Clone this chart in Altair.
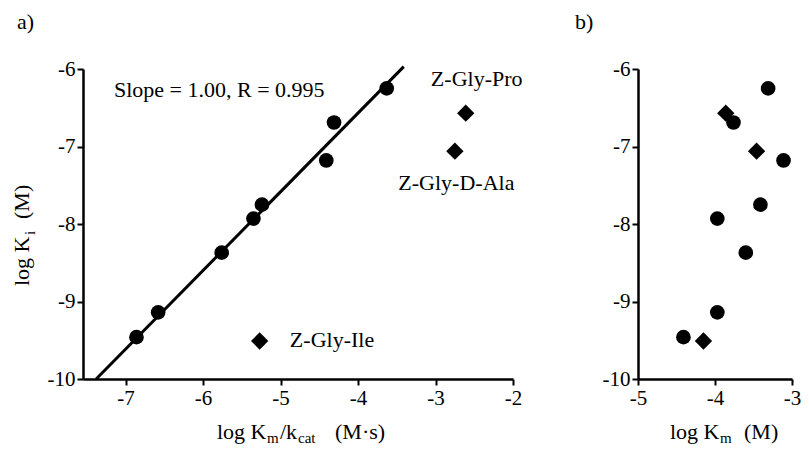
import altair as alt
import pandas as pd

FONT = "Liberation Serif"

# ---------------- data ----------------
# panel a: log Ki vs log(Km/kcat)
circ_a_x = [-6.86, -6.58, -5.76, -5.35, -5.24, -4.41, -4.31, -3.63]
circ_y = [-9.46, -9.14, -8.37, -7.93, -7.75, -7.18, -6.69, -6.25]
diam_names = ["Z-Gly-Ile", "Z-Gly-Pro", "Z-Gly-D-Ala"]
diam_a_x = [-5.27, -2.61, -2.75]
diam_y = [-9.51, -6.57, -7.06]
fit_x = [-7.38, -3.41]
fit_y = [-10.0, -5.97]
# panel b: log Ki vs log Km
circ_b_x = [-4.41, -3.97, -3.60, -3.97, -3.41, -3.11, -3.76, -3.31]
diam_b_x = [-4.15, -3.86, -3.46]

x_ticks_a = [-7, -6, -5, -4, -3, -2]
x_ticks_b = [-5, -4, -3]
y_ticks = [-10, -9, -8, -7, -6]

# annotation texts (anchored in data units of panel a)
note_text = ["Z-Gly-Ile", "Z-Gly-Pro", "Z-Gly-D-Ala", "Slope = 1.00, R = 0.995"]
note_x = [-4.88, -3.06, -3.48, -7.15]
note_y = [-9.59, -6.22, -7.56, -6.36]

# ---------------- tables ----------------
df_circ_a = pd.DataFrame({"x": circ_a_x, "y": circ_y})
df_diam_a = pd.DataFrame({"x": diam_a_x, "y": diam_y, "name": diam_names})
df_fit = pd.DataFrame({"x": fit_x, "y": fit_y})
df_circ_b = pd.DataFrame({"x": circ_b_x, "y": circ_y})
df_diam_b = pd.DataFrame({"x": diam_b_x, "y": diam_y, "name": diam_names})
df_note = pd.DataFrame({"x": note_x, "y": note_y, "t": note_text})


def axis(values):
    return alt.Axis(
        values=values, grid=False, title=None,
        domainColor="black", domainWidth=2.5,
        tickColor="black", tickWidth=2, tickSize=6,
        labelFont=FONT, labelFontSize=21, labelColor="black",
        labelPadding=2, labelFlush=False, labelOverlap=False,
        labelExpr="'' + datum.value",
    )


def piece(text, x, y, size, angle=0):
    return alt.Chart(pd.DataFrame({"_": [0]})).mark_text(
        text=text, font=FONT, fontSize=size, color="black",
        align="left", baseline="alphabetic", angle=angle,
    ).encode(x=alt.value(x), y=alt.value(y))


W_A, W_B, H = 430, 154, 310

xa = alt.X("x:Q", scale=alt.Scale(domain=[-7.55, -2], nice=False, zero=False), axis=axis(x_ticks_a))
xb = alt.X("x:Q", scale=alt.Scale(domain=[-5, -3], nice=False, zero=False), axis=axis(x_ticks_b))
yy = alt.Y("y:Q", scale=alt.Scale(domain=[-10, -6], nice=False, zero=False), axis=axis(y_ticks))

fit = alt.Chart(df_fit).mark_line(color="black", strokeWidth=3).encode(x=xa, y=yy)
ca = alt.Chart(df_circ_a).mark_point(shape="circle", filled=True, size=215, color="black", opacity=1).encode(x=xa, y=yy)
da = alt.Chart(df_diam_a).mark_point(shape="diamond", filled=True, size=300, color="black", opacity=1).encode(x=xa, y=yy)
notes = alt.Chart(df_note).mark_text(font=FONT, fontSize=22, color="black", align="left", baseline="alphabetic").encode(x=xa, y=yy, text="t:N")

panel_a = alt.layer(
    fit, ca, da, notes,
    piece("a)", -66, -40, 22),
    # x title: log K_m / k_cat  (M·s)
    piece("log K", 134, 370, 22),
    piece("m", 184, 374, 15),
    piece("/k", 197, 370, 22),
    piece("cat", 215, 374, 15),
    piece("(M·s)", 252, 370, 22),
    # y title: log K_i  (M)
    piece("log K", -54, 217, 22, 270),
    piece("i", -48, 166, 15, 270),
    piece("(M)", -54, 150, 22, 270),
).properties(width=W_A, height=H)

cb = alt.Chart(df_circ_b).mark_point(shape="circle", filled=True, size=215, color="black", opacity=1).encode(x=xb, y=yy)
db = alt.Chart(df_diam_b).mark_point(shape="diamond", filled=True, size=300, color="black", opacity=1).encode(x=xb, y=yy)

panel_b = alt.layer(
    cb, db,
    piece("b)", -63, -40, 22),
    piece("log K", 32, 370, 22),
    piece("m", 82, 374, 15),
    piece("(M)", 106, 370, 22),
).properties(width=W_B, height=H)

chart = alt.hconcat(panel_a, panel_b, spacing=52).configure_view(stroke=None).properties(
    padding={"left": 3, "top": 3, "right": 0, "bottom": 0}
)

chart.save("out.html", embed_options={"renderer": "svg", "actions": False})
